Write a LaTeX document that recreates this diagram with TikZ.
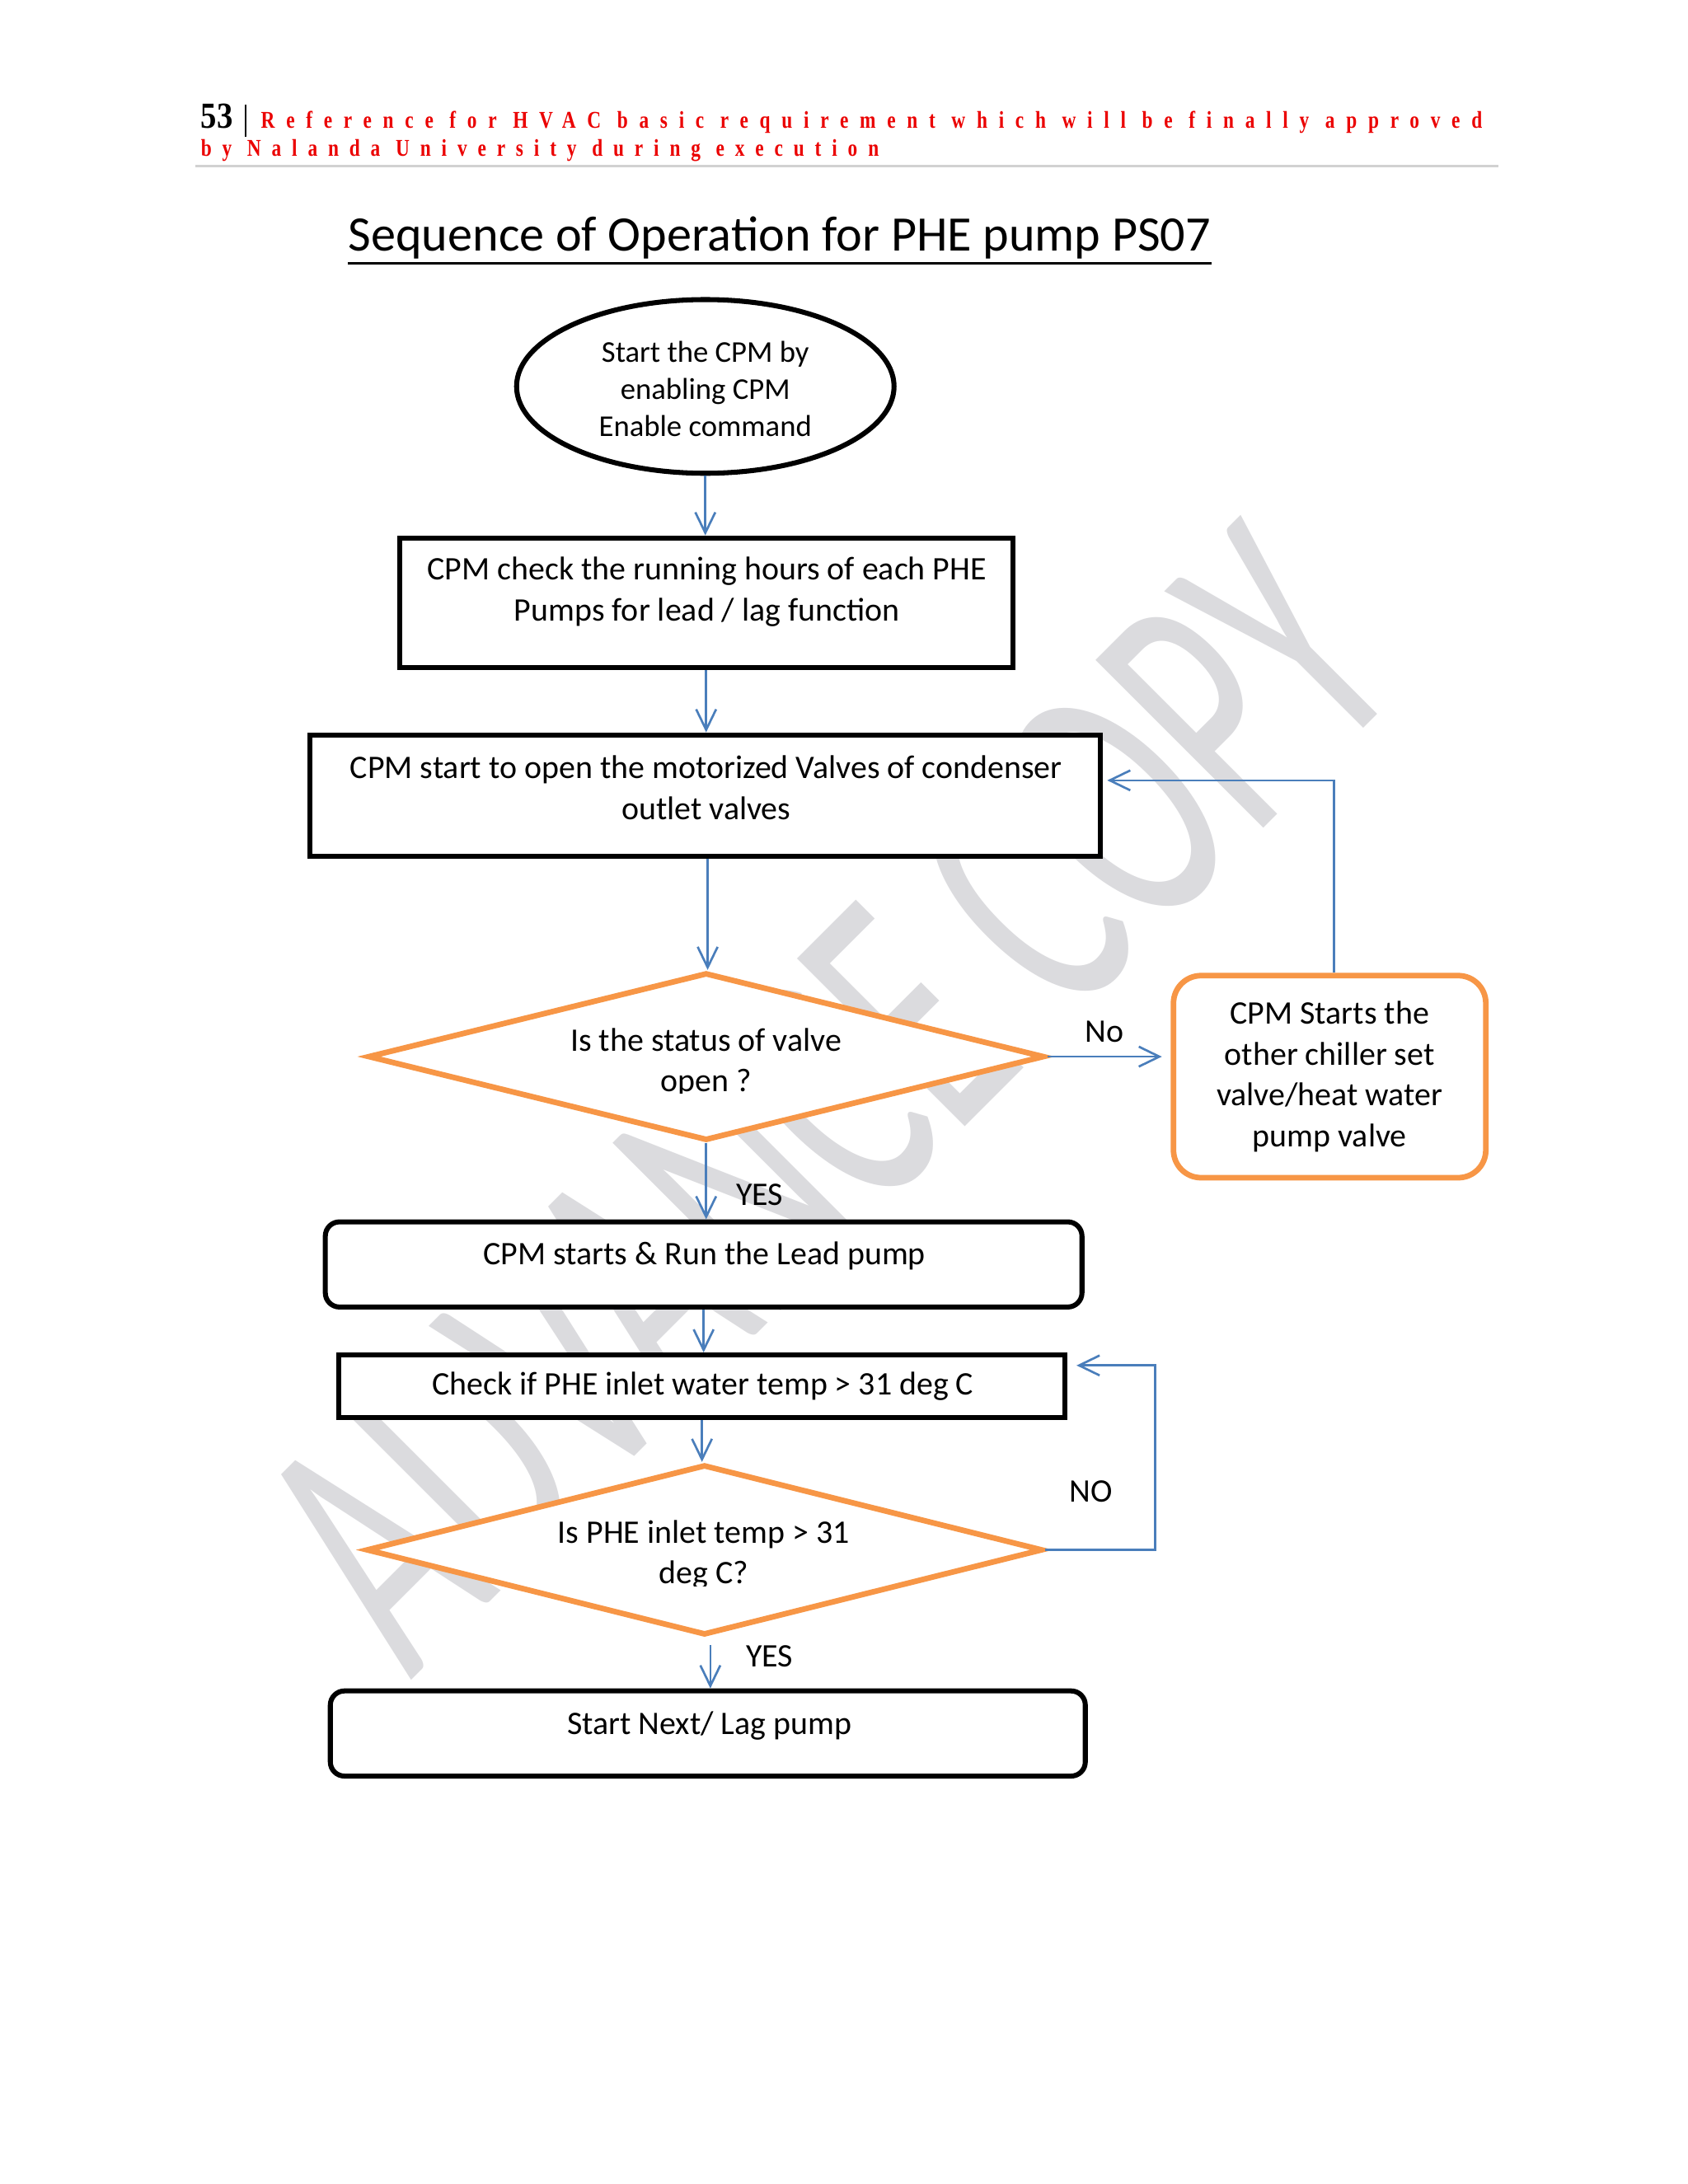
\documentclass[tikz,border=0pt]{standalone}
\usepackage{fontspec}
\setmainfont{Carlito}
\newfontfamily\hdrfont[FakeStretch=0.8]{Liberation Serif}
\newfontfamily\numfont[FakeStretch=0.87]{Liberation Serif}
\newfontfamily\wmfont{Carlito}
\usetikzlibrary{shapes.geometric,arrows.meta}
\definecolor{flowblue}{RGB}{74,126,187}
\definecolor{flowor}{RGB}{247,150,70}
\definecolor{wmgray}{RGB}{219,219,222}
\definecolor{hdrred}{RGB}{235,0,0}
\begin{document}
\begin{tikzpicture}[x=0.01cm,y=-0.01cm,
  blk/.style={draw=black, line width=1.7pt, fill=white, inner sep=0pt},
  rbox/.style={blk, rounded corners=0.17cm},
  decide/.style={diamond, draw=flowor, line width=1.9pt, fill=white, inner sep=0pt},
  altbox/.style={draw=flowor, line width=1.9pt, fill=white, rounded corners=0.33cm, inner sep=0pt},
  txt/.style={inner sep=0pt, align=center, font=\fontsize{11.2}{13.9}\selectfont},
  lbl/.style={inner sep=0pt, font=\fontsize{11.2}{13.9}\selectfont},
  arr/.style={draw=flowblue, line width=0.75pt, -{Straight Barb[length=7pt,width=6.8pt]}}]
\useasboundingbox[fill=white] (0,0) rectangle (2022.3,2616.8);
% header
\node[anchor=base west, inner sep=0pt, font=\numfont\bfseries\fontsize{12.5}{14}\selectfont] (pg) at (240,154) {53};
\draw[line width=0.6pt] (294,125) -- (294,164);
\node[anchor=base west, inner sep=0pt, text=hdrred, font=\hdrfont\bfseries\fontsize{8.2}{9}\selectfont\addfontfeature{LetterSpace=47}] (hdr1) at (312,154) {Reference for HVAC basic requirement which will be finally approved};
\node[anchor=base west, inner sep=0pt, text=hdrred, font=\hdrfont\bfseries\fontsize{8.2}{9}\selectfont\addfontfeature{LetterSpace=44}] (hdr2) at (240,187) {by Nalanda University during execution};
\draw[draw=black!18, line width=1pt] (234,199) -- (1795,199);
% title
\node[anchor=base, inner sep=0pt, font=\fontsize{16.9}{20}\selectfont] (title) at (934,301) {Sequence of Operation for PHE pump PS07};
\draw[line width=0.9pt] ([yshift=-1.2pt]title.south west) -- ([yshift=-1.2pt]title.south east);
% watermark
\node[rotate=45, anchor=base west, text=wmgray, inner sep=0pt, font=\wmfont\fontsize{126}{126}\selectfont] (wm) at (492,2014) {\scalebox{0.6}[1]{ADVANCE COPY}};
% shapes
\node[blk, ellipse, minimum width=4.52cm, minimum height=2.08cm] (start) at (845,463) {};
\node[txt, font=\fontsize{10.3}{12.5}\selectfont] (starttxt) at (845,466) {Start the CPM by\\enabling CPM\\Enable command};
\node[blk, minimum width=7.34cm, minimum height=1.55cm] (check) at (846,722) {};
\node[txt] (checktxt) at (847,709) {CPM check the running hours of each PHE\\Pumps for lead / lag function};
\node[blk, minimum width=9.46cm, minimum height=1.45cm] (valves) at (845,953) {};
\node[txt] (valvestxt) at (846,944) {CPM start to open the motorized Valves of condenser\\outlet valves};
\node[decide, minimum width=8.1cm, minimum height=2.01cm] (q1) at (846,1266) {};
\begin{scope}
\clip (400,1150) rectangle (1300,1310);
\node[txt] (q1txt) at (846,1273) {Is the status of valve\\open ?};
\end{scope}
\node[altbox, minimum width=3.74cm, minimum height=2.42cm] (alt) at (1593,1290) {};
\node[txt] (alttxt) at (1593,1290) {CPM Starts the\\other chiller set\\valve/heat water\\pump valve};
\node[rbox, minimum width=9.06cm, minimum height=1.02cm] (lead) at (843,1515) {};
\node[txt] (leadtxt) at (844,1505) {CPM starts \& Run the Lead pump};
\node[blk, minimum width=8.7cm, minimum height=0.75cm] (temp) at (841,1661) {};
\node[txt] (temptxt) at (842,1661) {Check if PHE inlet water temp > 31 deg C};
\node[decide, minimum width=8.1cm, minimum height=2.04cm] (q2) at (844,1857) {};
\begin{scope}
\clip (400,1740) rectangle (1300,1900);
\node[txt] (q2txt) at (843,1863) {Is PHE inlet temp > 31\\deg C?};
\end{scope}
\node[rbox, minimum width=9.04cm, minimum height=1.02cm] (lag) at (848,2077) {};
\node[txt] (lagtxt) at (850,2068) {Start Next/ Lag pump};
% labels
\node[lbl] (nolbl) at (1323,1236) {No};
\node[lbl] (yes1) at (910,1432) {YES};
\node[lbl] (nolbl2) at (1307,1787) {NO};
\node[lbl] (yes2) at (922,1984) {YES};
% connectors
\coordinate (fb1) at (1598,935);
\coordinate (fb2) at (1384,1636);
\draw[arr] (start.south) -- (start.south |- check.north);
\draw[arr] (check.south) -- (check.south |- valves.north);
\draw[arr] ([xshift=0.8pt]valves.south) -- ([xshift=0.8pt]valves.south |- q1.north);
\draw[arr, shorten >=3pt] (q1.east) -- (alt.west |- q1.east);
\draw[arr] (alt.north -| fb1) -- (fb1) -- ([xshift=1.5pt]valves.east |- fb1);
\draw[arr] (q1.south) -- (q1.south |- lead.north);
\draw[arr] (lead.south) -- (lead.south |- temp.north);
\draw[arr] (temp.south) -- (temp.south |- q2.north);
\draw[arr] (q2.east) -- (q2.east -| fb2) -- (fb2) -- ([xshift=3pt]temp.east |- fb2);
\draw[arr] ([xshift=2pt,yshift=-2.5pt]q2.south) -- ([xshift=2pt]q2.south |- lag.north);
\end{tikzpicture}
\end{document}
